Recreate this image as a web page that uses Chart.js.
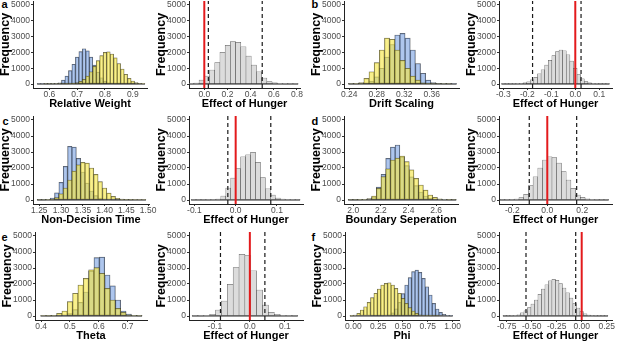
<!DOCTYPE html>
<html>
<head>
<meta charset="utf-8">
<script src="https://cdn.jsdelivr.net/npm/chart.js@4.4.0/dist/chart.umd.min.js"></script>
<style>
  html, body { margin: 0; padding: 0; background: #fff; overflow: hidden; }
  body { width: 617px; height: 343px; position: relative; }
  canvas { position: absolute; }
  .tag { position: absolute; font: bold 11px "Liberation Sans", Arial, sans-serif; line-height: 11px; color: #000; }
</style>
</head>
<body>
<div class="tag" style="left:1.5px;top:-1px">a</div>
<div class="tag" style="left:311.5px;top:-1.5px">b</div>
<div class="tag" style="left:2.5px;top:115.5px">c</div>
<div class="tag" style="left:311.5px;top:115.5px">d</div>
<div class="tag" style="left:1.5px;top:232px">e</div>
<div class="tag" style="left:311.5px;top:232px">f</div>
<script>
// counts, bins = [first bin centre, bin width]
const yTicks = [0, 1000, 2000, 3000, 4000, 5000];

// a  Relative Weight
const weightBins = [0.5625, 0.0125];
const weightBlue = [2, 3, 5, 8, 15, 30, 80, 250, 500, 850, 1250, 1700, 2050, 2230, 2100, 1700, 1200, 750, 400, 180, 80, 35, 15, 6, 4, 3, 2, 1, 1, 0, 0];
const weightYellow = [0, 0, 1, 1, 2, 3, 5, 8, 15, 25, 45, 90, 170, 300, 500, 780, 1120, 1480, 1800, 2000, 2030, 1900, 1650, 1300, 950, 620, 360, 190, 90, 40, 15];
const weightTicks = [0.6, 0.7, 0.8, 0.9];
const weightLabels = ['0.6', '0.7', '0.8', '0.9'];

const hungerWeightBins = [-0.1125, 0.045];
const hungerWeight = [15, 60, 250, 500, 890, 1350, 2000, 2450, 2680, 2640, 2360, 1770, 1200, 780, 380, 160, 70, 30, 12, 5, 2];
const hungerWeightCI = [0.035, 0.5];
const hungerWeightTicks = [0, 0.2, 0.4, 0.6, 0.8];
const hungerWeightLabels = ['0.0', '0.2', '0.4', '0.6', '0.8'];

// b  Drift Scaling
const driftBins = [0.2425, 0.0075];
const driftBlue = [2, 5, 20, 60, 180, 450, 1000, 1700, 2500, 3100, 3200, 2900, 2150, 1300, 680, 250, 100, 40, 15, 5, 2];
const driftYellow = [3, 15, 100, 360, 780, 1350, 2150, 2900, 2830, 2150, 1500, 1000, 500, 250, 80, 30, 10, 4, 2, 1, 0];
const driftTicks = [0.24, 0.28, 0.32, 0.36];
const driftLabels = ['0.24', '0.28', '0.32', '0.36'];

const hungerDriftBins = [-0.3, 0.015];
const hungerDrift = [2, 4, 6, 10, 18, 35, 70, 140, 260, 430, 650, 900, 1200, 1500, 1800, 2050, 2150, 2100, 1850, 1450, 1000, 600, 330, 160, 70, 30, 12, 6, 3, 1];
const hungerDriftCI = [-0.178, 0.024];
const hungerDriftTicks = [-0.3, -0.2, -0.1, 0, 0.1];
const hungerDriftLabels = ['-0.3', '-0.2', '-0.1', '0.0', '0.1'];

// c  Non-Decision Time
const ndtBins = [1.25, 0.01];
const ndtBlue = [3, 8, 25, 120, 450, 1100, 2100, 3350, 3300, 2600, 1750, 1050, 560, 270, 120, 50, 22, 10, 4, 2, 1, 1, 0, 0, 0];
const ndtYellow = [2, 5, 15, 50, 150, 380, 750, 1250, 1800, 2200, 2350, 2300, 2000, 1600, 1150, 750, 430, 230, 110, 50, 22, 10, 5, 2, 1];
const ndtTicks = [1.25, 1.3, 1.35, 1.4, 1.45, 1.5];
const ndtLabels = ['1.25', '1.30', '1.35', '1.40', '1.45', '1.50'];

const hungerNdtBins = [-0.102, 0.012];
const hungerNdt = [1, 2, 5, 10, 25, 60, 250, 750, 1370, 1970, 2700, 2830, 2980, 2350, 1400, 700, 300, 120, 50, 20, 8, 3];
const hungerNdtCI = [-0.019, 0.085];
const hungerNdtTicks = [-0.1, 0, 0.1];
const hungerNdtLabels = ['-0.1', '0.0', '0.1'];

// d  Boundary Seperation
const boundBins = [1.98, 0.034];
const boundBlue = [1, 3, 8, 25, 70, 200, 800, 1600, 2600, 3300, 3440, 2700, 2150, 1450, 900, 500, 250, 110, 45, 18, 6, 2, 1];
const boundYellow = [2, 5, 15, 40, 90, 250, 730, 1460, 1950, 2500, 2620, 2750, 2400, 1880, 1350, 940, 620, 310, 170, 70, 30, 10, 3];
const boundTicks = [2.0, 2.2, 2.4, 2.6];
const boundLabels = ['2.0', '2.2', '2.4', '2.6'];

const hungerBoundBins = [-0.2565, 0.027];
const hungerBound = [3, 8, 20, 50, 150, 350, 900, 1450, 2000, 2500, 2700, 2650, 2300, 1770, 1250, 730, 310, 170, 70, 30, 12, 5, 2];
const hungerBoundCI = [-0.103, 0.168];
const hungerBoundTicks = [-0.2, 0, 0.2];
const hungerBoundLabels = ['-0.2', '0.0', '0.2'];

// e  Theta
const thetaBins = [0.4076, 0.0185];
const thetaBlue = [0, 1, 3, 10, 40, 150, 400, 850, 1500, 2800, 3650, 3680, 2560, 1880, 1000, 310, 120, 40, 10];
const thetaYellow = [3, 10, 40, 170, 310, 900, 1420, 1940, 2350, 2880, 3020, 2670, 1730, 1000, 480, 230, 80, 25, 8];
const thetaTicks = [0.4, 0.5, 0.6, 0.7];
const thetaLabels = ['0.4', '0.5', '0.6', '0.7'];

const hungerThetaBins = [-0.1569, 0.0168];
const hungerTheta = [2, 8, 30, 110, 375, 940, 1980, 3020, 3850, 3770, 2830, 1625, 690, 230, 100, 40, 15, 5];
const hungerThetaCI = [-0.084, 0.043];
const hungerThetaTicks = [-0.1, 0, 0.1];
const hungerThetaLabels = ['-0.1', '0.0', '0.1'];

// f  Phi
const phiBins = [-0.017, 0.0345];
const phiBlue = [0, 0, 0, 0, 0, 0, 1, 2, 4, 10, 30, 80, 200, 450, 850, 1400, 1940, 2400, 2770, 2870, 2730, 2350, 1830, 1310, 790, 440, 230, 100, 40, 12];
const phiYellow = [10, 60, 170, 375, 580, 850, 1150, 1420, 1690, 1940, 2040, 2080, 1940, 1730, 1420, 1100, 790, 520, 310, 170, 80, 35, 15, 6, 3, 1, 0, 0, 0, 0];
const phiTicks = [0, 0.25, 0.5, 0.75, 1];
const phiLabels = ['0.00', '0.25', '0.50', '0.75', '1.00'];

const hungerPhiBins = [-0.77, 0.035];
const hungerPhi = [2, 5, 12, 30, 80, 200, 330, 520, 750, 1000, 1350, 1680, 1950, 2200, 2290, 2230, 2020, 1750, 1450, 1120, 780, 500, 280, 140, 60, 25, 10, 4, 2, 1];
const hungerPhiCI = [-0.557, -0.06];
const hungerPhiTicks = [-0.75, -0.5, -0.25, 0, 0.25];
const hungerPhiLabels = ['-0.75', '-0.50', '-0.25', '0.00', '0.25'];

const noEffect = 0;

const BLUE = 'rgba(120,160,225,0.6)';
const YELLOW = 'rgba(245,230,70,0.62)';
const GREY = '#dcdcdc';
const EDGE = 'rgba(25,25,25,0.75)';
const FONT = '"Liberation Sans", Arial, Helvetica, sans-serif';

// box = [left axis x, right end x, top y, axis y] in page pixels
const panels = [
  { box: [33, 147, 1, 88], x: [0.5414, 0.951], bins: weightBins, blue: weightBlue, yellow: weightYellow, ticks: weightTicks, labels: weightLabels, title: 'Relative Weight' },
  { box: [189, 300, 1, 88], x: [-0.132, 0.826], bins: hungerWeightBins, grey: hungerWeight, ci: hungerWeightCI, ticks: hungerWeightTicks, labels: hungerWeightLabels, title: 'Effect of Hunger' },
  { box: [344, 459, 1, 88], x: [0.2323, 0.3998], bins: driftBins, blue: driftBlue, yellow: driftYellow, ticks: driftTicks, labels: driftLabels, title: 'Drift Scaling' },
  { box: [499, 612, 1, 88], x: [-0.3179, 0.153], bins: hungerDriftBins, grey: hungerDrift, ci: hungerDriftCI, ticks: hungerDriftTicks, labels: hungerDriftLabels, title: 'Effect of Hunger' },
  { box: [33, 149, 116, 204], x: [1.2355, 1.502], bins: ndtBins, blue: ndtBlue, yellow: ndtYellow, ticks: ndtTicks, labels: ndtLabels, title: 'Non-Decision Time' },
  { box: [189, 303, 116, 204], x: [-0.113, 0.163], bins: hungerNdtBins, grey: hungerNdt, ci: hungerNdtCI, ticks: hungerNdtTicks, labels: hungerNdtLabels, title: 'Effect of Hunger' },
  { box: [344, 458, 116, 204], x: [1.933, 2.758], bins: boundBins, blue: boundBlue, yellow: boundYellow, ticks: boundTicks, labels: boundLabels, title: 'Boundary Seperation' },
  { box: [499, 612, 116, 204], x: [-0.276, 0.37], bins: hungerBoundBins, grey: hungerBound, ci: hungerBoundCI, ticks: hungerBoundTicks, labels: hungerBoundLabels, title: 'Effect of Hunger' },
  { box: [35, 147, 232, 320], x: [0.379, 0.767], bins: thetaBins, blue: thetaBlue, yellow: thetaYellow, ticks: thetaTicks, labels: thetaLabels, title: 'Theta' },
  { box: [189, 303, 232, 320], x: [-0.174, 0.152], bins: hungerThetaBins, grey: hungerTheta, ci: hungerThetaCI, ticks: hungerThetaTicks, labels: hungerThetaLabels, title: 'Effect of Hunger' },
  { box: [345, 459, 232, 320], x: [-0.084, 1.064], bins: phiBins, blue: phiBlue, yellow: phiYellow, ticks: phiTicks, labels: phiLabels, title: 'Phi' },
  { box: [499, 612, 232, 320], x: [-0.827, 0.303], bins: hungerPhiBins, grey: hungerPhi, ci: hungerPhiCI, ticks: hungerPhiTicks, labels: hungerPhiLabels, title: 'Effect of Hunger' }
];

function toPoints(bins, counts) {
  return counts.map((c, i) => ({ x: bins[0] + i * bins[1], y: c }));
}

function histo(data, colour, order) {
  return {
    type: 'bar', data: data, backgroundColor: colour,
    borderColor: EDGE, borderWidth: 0.5, borderSkipped: false,
    barPercentage: 1, categoryPercentage: 1, grouped: false, order: order
  };
}

function vline(x, colour, width, dash) {
  return {
    type: 'line', data: [{ x: x, y: -250 }, { x: x, y: 5250 }],
    borderColor: colour, borderWidth: width, borderDash: dash,
    pointRadius: 0, fill: false, order: 0
  };
}

function drawPanel(p) {
  const [L, R, T, B] = p.box;
  const yW = 35, xH = 23, pad = 8;
  const cv = document.createElement('canvas');
  cv.width = R - L + yW + pad;
  cv.height = B - T + xH + pad;
  cv.style.left = (L - yW) + 'px';
  cv.style.top = (T - pad) + 'px';
  document.body.appendChild(cv);

  const n = (p.grey || p.blue).length;
  const lo = p.bins[0] - p.bins[1] / 2;
  const hi = p.bins[0] + (n - 0.5) * p.bins[1];
  const datasets = [
    { type: 'line', data: [{ x: lo, y: 0 }, { x: hi, y: 0 }], borderColor: '#2a2a2a', borderWidth: 1, pointRadius: 0, fill: false, order: 1 }
  ];
  if (p.grey) {
    datasets.push(histo(toPoints(p.bins, p.grey), GREY, 2));
    datasets.push(vline(p.ci[0], '#1a1a1a', 1.2, [4, 3]));
    datasets.push(vline(p.ci[1], '#1a1a1a', 1.2, [4, 3]));
    datasets.push(vline(noEffect, '#e31a1c', 2, []));
  } else {
    datasets.push(histo(toPoints(p.bins, p.blue), BLUE, 3));
    datasets.push(histo(toPoints(p.bins, p.yellow), YELLOW, 2));
  }

  new Chart(cv, {
    type: 'bar',
    data: { datasets: datasets },
    options: {
      responsive: false,
      animation: false,
      devicePixelRatio: 1,
      layout: { padding: { top: pad, right: pad, bottom: 0, left: 0 } },
      plugins: { legend: { display: false }, tooltip: { enabled: false } },
      scales: {
        x: {
          type: 'linear', min: p.x[0], max: p.x[1], offset: false,
          grid: { display: true, drawOnChartArea: false, drawTicks: true, tickLength: 2, color: '#333', offset: false },
          border: { display: true, color: '#222', width: 1 },
          ticks: { color: '#4d4d4d', font: { family: FONT, size: 8.5 }, padding: 0, autoSkip: false, maxRotation: 0,
                   callback: (v, i) => p.labels[i] },
          afterBuildTicks: s => { s.ticks = p.ticks.map(v => ({ value: v })); },
          afterFit: s => { s.height = xH; },
          title: { display: true, text: p.title, color: '#000', font: { family: FONT, size: 11, weight: 'bold' }, padding: 0 }
        },
        y: {
          type: 'linear', min: -250, max: 5250,
          grid: { display: true, drawOnChartArea: false, drawTicks: true, tickLength: 2, color: '#333' },
          border: { display: true, color: '#222', width: 1 },
          ticks: { color: '#4d4d4d', font: { family: FONT, size: 8.5 }, padding: 1, autoSkip: false,
                   callback: v => String(v) },
          afterBuildTicks: s => { s.ticks = yTicks.map(v => ({ value: v })); },
          afterFit: s => { s.width = yW; },
          title: { display: true, text: 'Frequency', color: '#000', font: { family: FONT, size: 12.5, weight: 'bold' }, padding: 0 }
        }
      }
    }
  });
}

panels.forEach(drawPanel);
</script>
</body>
</html>
